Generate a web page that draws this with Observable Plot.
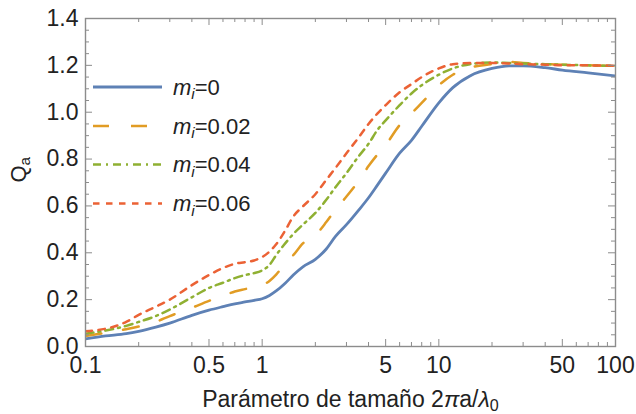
<!DOCTYPE html>
<html><head><meta charset="utf-8">
<script src="https://cdn.jsdelivr.net/npm/d3@7"></script>
<script src="https://cdn.jsdelivr.net/npm/@observablehq/plot@0.6"></script>
<style>body{margin:0;background:#fff}</style>
</head><body><div id="chart"></div>
<script>
// size parameter 2πa/λ0
const xs = [0.1,0.13,0.17,0.2,0.25,0.3,0.4,0.5,0.6,0.7,0.8,0.9,1.0,1.1,1.2,1.35,1.5,1.7,2.0,2.3,2.6,3.0,3.5,4.0,4.5,5,6,7,8,10,12,15,20,25,30,40,50,70,100];
// Q_a for m_i = 0
const qa0 = [0.033,0.045,0.055,0.065,0.083,0.100,0.133,0.155,0.170,0.182,0.190,0.197,0.204,0.218,0.237,0.270,0.305,0.340,0.372,0.415,0.470,0.520,0.580,0.635,0.690,0.740,0.825,0.880,0.940,1.040,1.105,1.155,1.187,1.198,1.198,1.190,1.180,1.168,1.155];
// Q_a for m_i = 0.02
const qa002 = [0.045,0.058,0.074,0.085,0.105,0.130,0.165,0.195,0.215,0.235,0.245,0.253,0.262,0.280,0.307,0.355,0.390,0.440,0.475,0.530,0.585,0.640,0.705,0.770,0.820,0.860,0.945,0.995,1.040,1.115,1.160,1.190,1.205,1.215,1.210,1.205,1.203,1.200,1.198];
// Q_a for m_i = 0.04
const qa004 = [0.055,0.068,0.088,0.105,0.130,0.158,0.210,0.250,0.272,0.292,0.305,0.313,0.325,0.348,0.390,0.440,0.480,0.520,0.570,0.625,0.680,0.740,0.810,0.865,0.925,0.965,1.030,1.080,1.115,1.160,1.187,1.205,1.212,1.210,1.208,1.205,1.203,1.200,1.198];
// Q_a for m_i = 0.06
const qa006 = [0.065,0.076,0.105,0.135,0.170,0.200,0.262,0.305,0.335,0.353,0.360,0.367,0.382,0.405,0.436,0.495,0.555,0.598,0.650,0.710,0.762,0.825,0.890,0.950,0.995,1.030,1.085,1.120,1.150,1.187,1.205,1.210,1.210,1.208,1.205,1.203,1.200,1.200,1.198];

const seriesLabels = ["0","0.02","0.04","0.06"];
const xTicks = [0.1,0.5,1,5,10,50,100];
const xTickLabels = ["0.1","0.5","1","5","10","50","100"];
const xMinor = [0.2,0.3,0.4,0.6,0.7,0.8,0.9,2,3,4,6,7,8,9,20,30,40,60,70,80,90];
const yTicks = [0,0.2,0.4,0.6,0.8,1.0,1.2,1.4];
const yTickLabels = ["0.0","0.2","0.4","0.6","0.8","1.0","1.2","1.4"];
const yMinor = d3.range(0,29).filter(i => i % 4 !== 0).map(i => i * 0.05);
const xLabel = "Parámetro de tamaño 2πa/λ0";
const yLabel = "Qa";

const colors = ["#5E81B5","#E19C24","#8FB032","#EB6235"];
const dashes = [null,"16,22","8,5,2,5","6.5,6.5"];
const widths = [2.8,2.5,2.5,2.5];
const allSeries = [qa0,qa002,qa004,qa006];

const W = 636, H = 414, mL = 85, mR = 21, mT = 18, mB = 68;
const pW = W - mL - mR, pH = H - mT - mB;
const frameColor = "#8c8c8c";
const font = "'Liberation Sans', Arial, sans-serif";

const lineMarks = allSeries.map((vals, k) =>
  Plot.line(xs.map((x, i) => ({x, y: vals[i]})), {
    x: "x", y: "y", stroke: colors[k], strokeWidth: widths[k],
    strokeDasharray: dashes[k], curve: "monotone-x", clip: true
  })
);

const svg = Plot.plot({
  width: W, height: H,
  marginLeft: mL, marginRight: mR, marginTop: mT, marginBottom: mB,
  style: {fontFamily: font, background: "#fff", color: "#222"},
  x: {type: "log", domain: [0.1, 100], axis: null},
  y: {domain: [0, 1.4], axis: null},
  marks: [
    ...lineMarks,
    Plot.frame({stroke: frameColor, strokeWidth: 1.4}),
    Plot.tickX(xTicks, {x: d => d, insetTop: pH - 7, stroke: frameColor}),
    Plot.tickX(xTicks, {x: d => d, insetBottom: pH - 7, stroke: frameColor}),
    Plot.tickX(xMinor, {x: d => d, insetTop: pH - 4, stroke: frameColor}),
    Plot.tickX(xMinor, {x: d => d, insetBottom: pH - 4, stroke: frameColor}),
    Plot.tickY(yTicks, {y: d => d, insetRight: pW - 7, stroke: frameColor}),
    Plot.tickY(yTicks, {y: d => d, insetLeft: pW - 7, stroke: frameColor}),
    Plot.tickY(yMinor, {y: d => d, insetRight: pW - 4, stroke: frameColor}),
    Plot.tickY(yMinor, {y: d => d, insetLeft: pW - 4, stroke: frameColor}),
    Plot.text(xTicks, {x: d => d, text: (d, i) => xTickLabels[i], frameAnchor: "bottom",
      lineAnchor: "top", dy: 10, fontSize: 23, fill: "#222"}),
    Plot.text(yTicks, {y: d => d, text: (d, i) => yTickLabels[i], frameAnchor: "left",
      textAnchor: "end", dx: -7, fontSize: 23, fill: "#222"}),
    Plot.text([xLabel], {text: d => d, frameAnchor: "bottom", lineAnchor: "bottom", dy: 60, fontSize: 23, fill: "#222"}),
    Plot.text([yLabel], {text: d => d, frameAnchor: "left", lineAnchor: "bottom", rotate: -90, dx: -60, fontSize: 22, fill: "#222"})
  ]
});

// rich text for axis titles
svg.querySelectorAll("text").forEach(t => {
  if (t.textContent === xLabel) {
    t.innerHTML = 'Parámetro de tamaño 2<tspan font-style="italic">π</tspan>a/<tspan font-style="italic">λ</tspan><tspan font-size="0.7em" dy="0.3em">0</tspan>';
  } else if (t.textContent === yLabel) {
    t.innerHTML = 'Q<tspan font-size="0.7em" dy="0.3em">a</tspan>';
  }
});

// legend (Mathematica style, inside the frame)
const lg = d3.select(svg).append("g").attr("font-family", font).attr("text-anchor", "start");
const rowY = [87, 126, 164.5, 203.5];
seriesLabels.forEach((lab, k) => {
  lg.append("line").attr("x1", 93).attr("x2", 162).attr("y1", rowY[k]).attr("y2", rowY[k])
    .attr("stroke", colors[k]).attr("stroke-width", widths[k])
    .attr("stroke-dasharray", dashes[k]);
  const t = lg.append("text").attr("x", 173).attr("y", rowY[k]).attr("dy", "0.35em")
    .attr("text-anchor", "start").attr("font-size", 22).attr("fill", "#222");
  t.append("tspan").attr("font-style", "italic").text("m");
  t.append("tspan").attr("font-style", "italic").attr("font-size", "0.7em").attr("dy", "0.3em").text("i");
  t.append("tspan").attr("dy", "-0.21em").text("=" + lab);
});

document.getElementById("chart").appendChild(svg);
</script>
</body></html>
